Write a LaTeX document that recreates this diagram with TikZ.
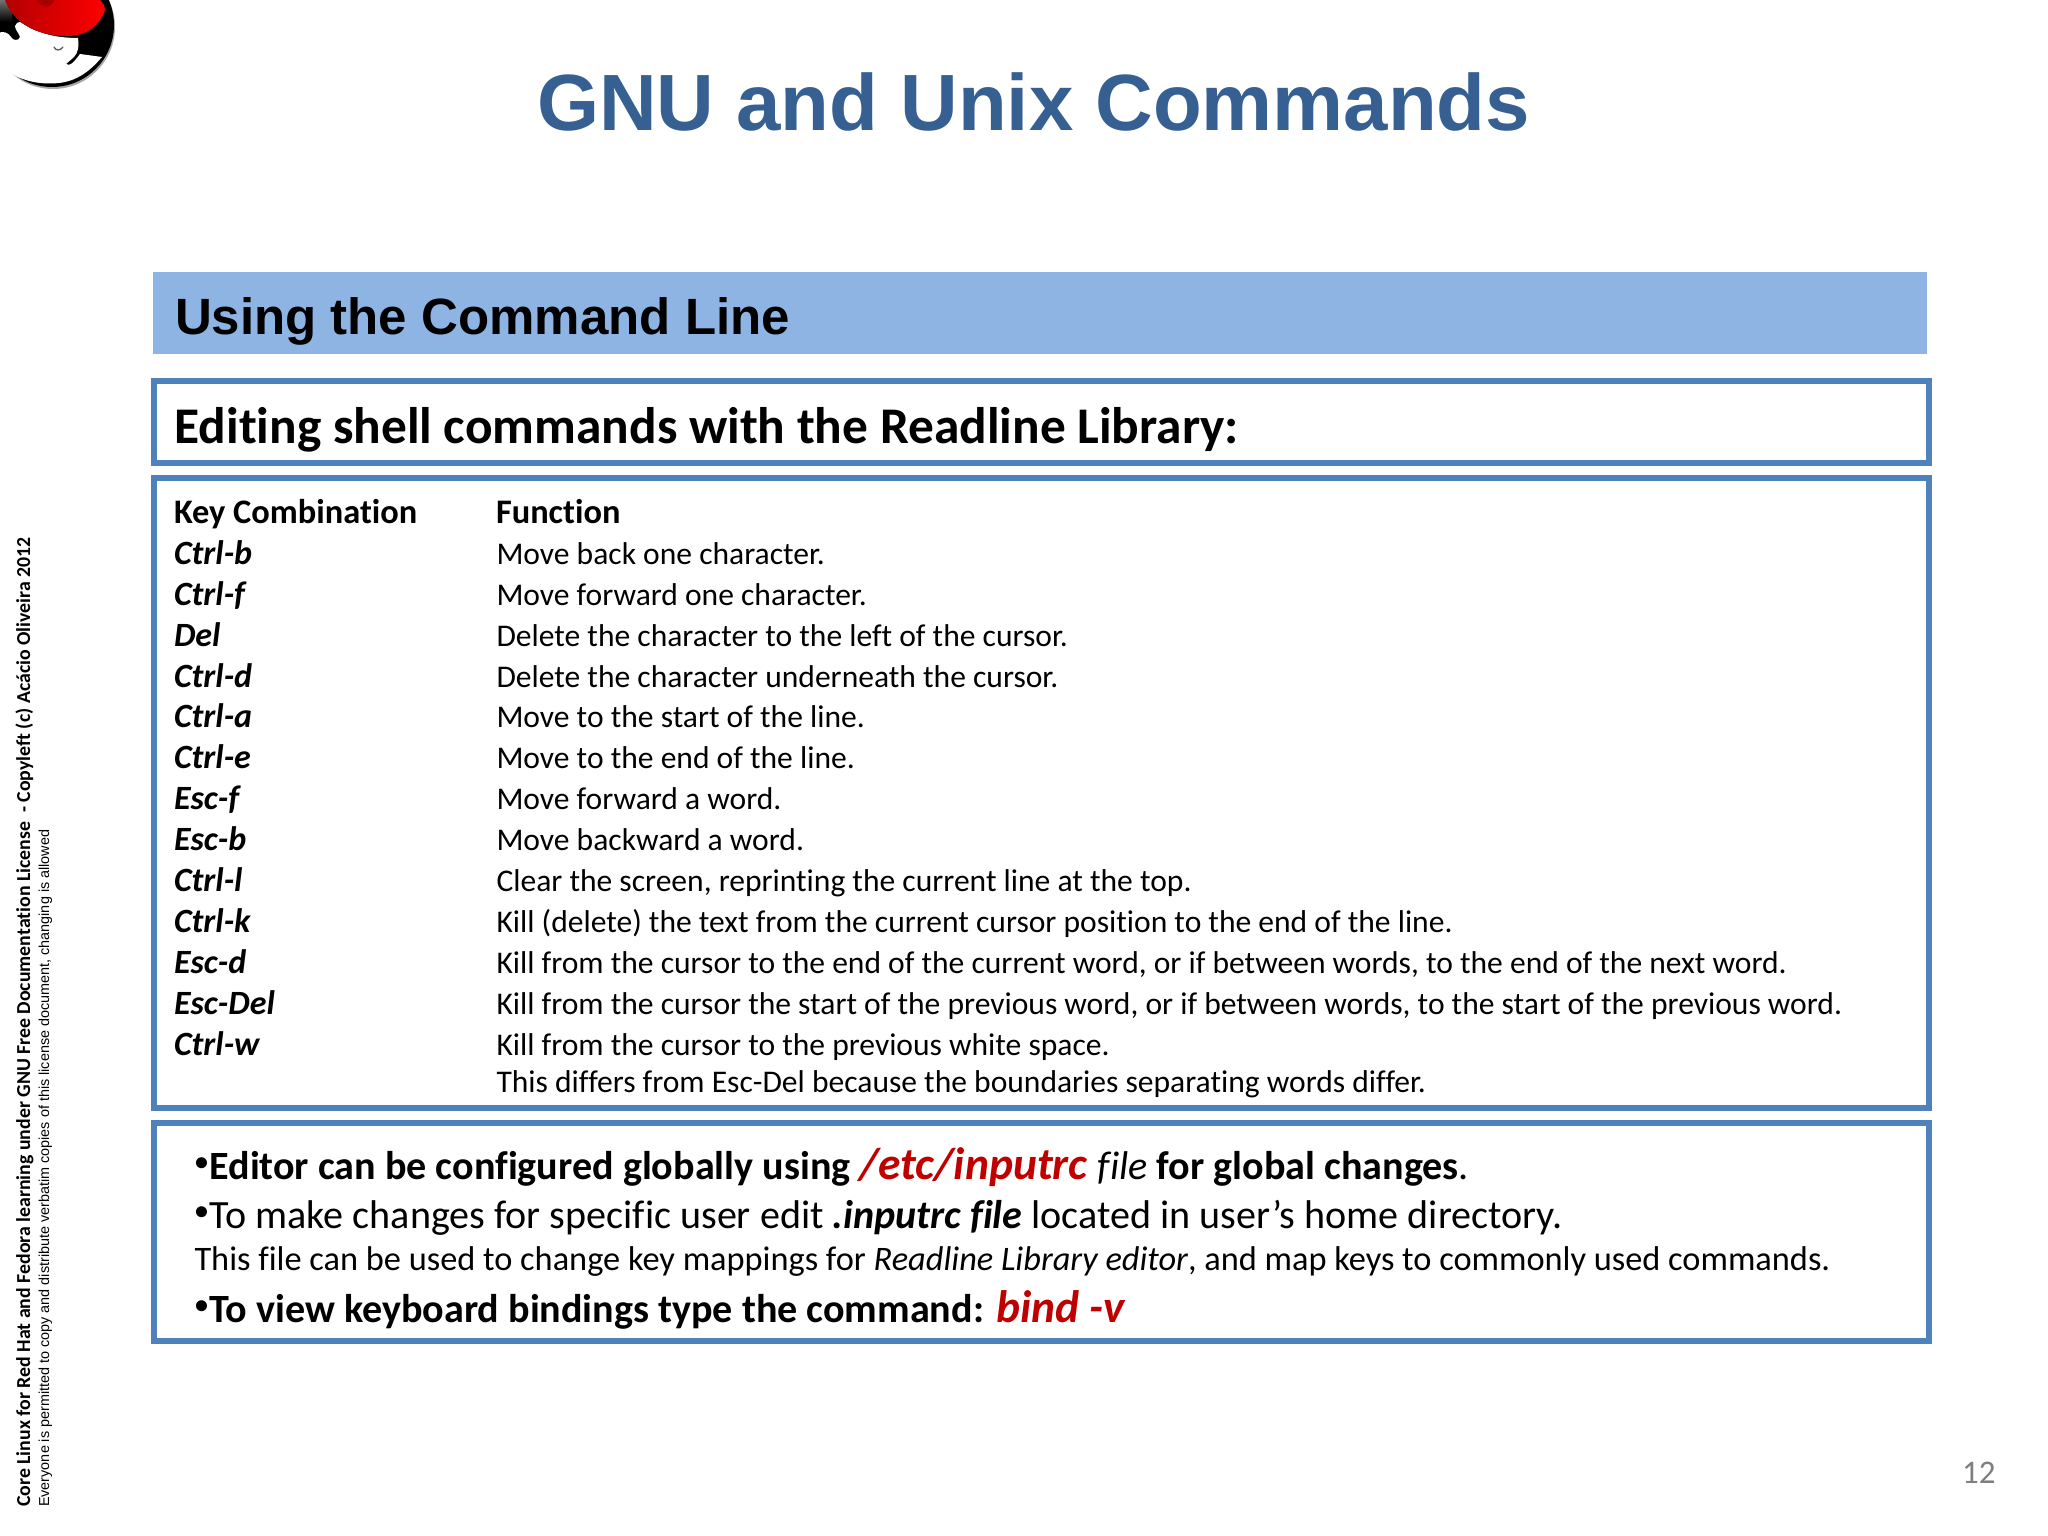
\documentclass[tikz,border=0pt]{standalone}
\usepackage{fontspec}
\setmainfont[Ligatures=NoCommon]{Carlito}
\newfontfamily\arialf{Liberation Sans}
\definecolor{titleblue}{HTML}{376092}
\definecolor{boxblue}{HTML}{4F81BD}
\definecolor{bandblue}{HTML}{8EB4E3}
\definecolor{cmdred}{HTML}{C00000}
\definecolor{pagegray}{HTML}{7F7F7F}
\newcommand{\blt}{\makebox[14.5pt][l]{\raisebox{9pt}{\fontsize{26}{26}\selectfont\bfseries•}}}
\tikzset{
  frame/.style={draw=boxblue,line width=5.5pt,fill=white},
  txt/.style={anchor=base west,inner sep=0pt,outer sep=0pt},
  keyname/.style={txt,font=\fontsize{34}{34}\selectfont\bfseries\itshape},
  keyhead/.style={txt,font=\fontsize{34.4}{34}\selectfont\bfseries},
  func/.style={txt,font=\fontsize{31.55}{32}\selectfont},
  big/.style={txt,font=\fontsize{40.1}{40}\selectfont},
  side/.style={anchor=base west,inner sep=0pt,rotate=90}
}
\begin{document}
\begin{tikzpicture}[x=1pt,y=-1pt]
\useasboundingbox (0,0) rectangle (2048,1536);
\fill[white] (0,0) rectangle (2048,1536);
% logo
\begin{scope}
\clip (0,0) rectangle (2048,1536);
\fill[black!35] (53,27) circle (62);
\fill[black] (52,25) circle (62);
\shade[top color=black!55,bottom color=black] (-2,0) rectangle (12,22);
\fill[white] (-2,33) .. controls (3,31) and (8,32) .. (11,37) .. controls (13,41) and (19,41) .. (20,37) .. controls (19,33) and (15,30) .. (15,26) .. controls (16,23) and (18,22) .. (20,22) -- (30,28) .. controls (45,35) and (60,38) .. (78,38) .. controls (79,46) and (79,52) .. (73,58) -- (66,64) .. controls (70,67) and (74,62) .. (80,54) -- (102,57) .. controls (85,77) and (70,83.5) .. (50,83.5) .. controls (28,83.5) and (10,76) .. (-2,62) -- cycle;
\draw[black!65,line width=1.3pt,line cap=round] (54,47) .. controls (56,51) and (60,51) .. (63,47);
\shade[left color=red!70!black,right color=red] (5,0) .. controls (12,20) and (33,36) .. (67,36) .. controls (88,36) and (100,25) .. (105,10) .. controls (105,6) and (103,3) .. (100,0) -- cycle;
\fill[red!65!black] (37,0) .. controls (42,8) and (50,10) .. (54,0) -- cycle;
\end{scope}
% title
\node[txt,font=\arialf\bfseries\fontsize{79.8}{80}\selectfont,text=titleblue] (title) at (537,131) {GNU and Unix Commands};
% band
\fill[bandblue] (153,272) rectangle (1927,354);
\node[txt,font=\arialf\bfseries\fontsize{51}{51}\selectfont] (band) at (175,334) {Using the Command Line};
% frames
\draw[frame] (154,381) rectangle (1929,463);
\draw[frame] (154,478) rectangle (1929,1108);
\draw[frame] (154,1123) rectangle (1929,1341);
\node[txt,font=\bfseries\fontsize{51.4}{51}\selectfont] (head) at (174.5,443) {Editing shell commands with the Readline Library:};
% table
\node[keyhead] (kh) at (174,523) {Key Combination};
\node[keyhead] (fh) at (496,523) {Function};
\foreach \yy/\kk/\ff in {
 564/Ctrl-b/Move back one character.,
 605/Ctrl-f/Move forward one character.,
 646.3/Del/Delete the character to the left of the cursor.,
 687.2/Ctrl-d/Delete the character underneath the cursor.,
 727/Ctrl-a/Move to the start of the line.,
 768/Ctrl-e/Move to the end of the line.,
 809.8/Esc-f/Move forward a word.,
 850.8/Esc-b/Move backward a word.,
 891.8/Ctrl-l/{Clear the screen, reprinting the current line at the top.},
 932.8/Ctrl-k/Kill (delete) the text from the current cursor position to the end of the line.,
 973/Esc-d/{Kill from the cursor to the end of the current word, or if between words, to the end of the next word.},
 1014.3/Esc-Del/{Kill from the cursor the start of the previous word, or if between words, to the start of the previous word.},
 1055/Ctrl-w/Kill from the cursor to the previous white space.}
 {
   \node[keyname] at (174,\yy) {\kk};
   \node[func] at (496.5,\yy) {\ff};
 }
\node[func] (last) at (496.5,1092) {This differs from Esc-Del because the boundaries separating words differ.};
% notes
\node[big] (n1) at (195,1179) {\blt\textbf{Editor can be configured globally using }{\fontsize{45.5}{46}\selectfont\bfseries\itshape\color{cmdred}/etc/inputrc }\textit{file }\textbf{for global changes}.};
\node[big] (n2) at (195,1228) {\blt To make changes for specific user edit \textbf{\textit{.inputrc file}} located in user’s home directory.};
\node[txt,font=\fontsize{34.35}{34}\selectfont] (n3) at (194.5,1270) {This file can be used to change key mappings for \textit{Readline Library editor}, and map keys to commonly used commands.};
\node[big] (n4) at (195,1322) {\blt\textbf{To view keyboard bindings type the command: }{\fontsize{45.5}{46}\selectfont\bfseries\itshape\color{cmdred}bind -v}};
% side
\node[side,font=\bfseries\fontsize{19.8}{20}\selectfont] (s1) at (30,1507) {Core Linux for Red Hat and Fedora learning under GNU Free Documentation License\ \ - Copyleft (c) Acácio Oliveira 2012};
\node[side,font=\arialf\fontsize{14.4}{14.5}\selectfont] (s2) at (49,1507) {Everyone is permitted to copy and distribute verbatim copies of this license document, changing is allowed};
% page number
\node[txt,font=\fontsize{33}{33}\selectfont,text=pagegray] (pg) at (1962,1483) {12};
\end{tikzpicture}
\end{document}
